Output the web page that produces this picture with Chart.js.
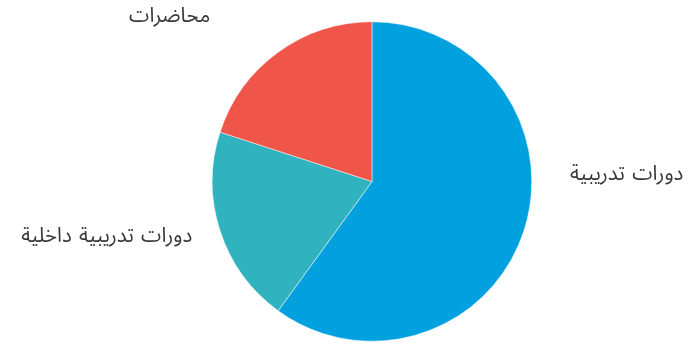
<!DOCTYPE html>
<html>
<head>
<meta charset="utf-8">
<script src="https://cdn.jsdelivr.net/npm/chart.js@4/dist/chart.umd.min.js"></script>
<style>
html,body{margin:0;padding:0;background:#fff;}
#wrap{width:689px;height:344px;position:relative;}
</style>
</head>
<body>
<div id="wrap"><canvas id="c"></canvas></div>
<script>
const categories = ["دورات تدريبية", "دورات تدريبية داخلية", "محاضرات"];
const values = [60, 20, 20];
const colors = ["#01A0DF", "#30B2BF", "#F05549"];

// label placement relative to the pie centre, in units of the radius
const labelOffsets = [
  {dx: 1.24, dy: -0.03, align: "left"},
  {dx: -1.125, dy: 0.36, align: "right"},
  {dx: -1.0125, dy: -1.02, align: "right"}
];

const outsideLabels = {
  id: "outsideLabels",
  afterDatasetsDraw(chart) {
    const ctx = chart.ctx;
    const meta = chart.getDatasetMeta(0);
    ctx.save();
    ctx.font = '20.5px "Noto Sans Arabic", "Noto Sans", sans-serif';
    ctx.fillStyle = "#383838";
    ctx.textBaseline = "middle";
    if ("wordSpacing" in ctx) ctx.wordSpacing = "2px";
    meta.data.forEach((arc, i) => {
      const r = arc.outerRadius;
      const o = labelOffsets[i];
      ctx.direction = "rtl";
      ctx.textAlign = o.align;
      ctx.fillText(chart.data.labels[i], arc.x + o.dx * r, arc.y + o.dy * r);
    });
    ctx.restore();
  }
};

new Chart(document.getElementById("c"), {
  type: "pie",
  data: {
    labels: categories,
    datasets: [{
      data: values,
      backgroundColor: colors,
      borderColor: "#ffffff",
      borderWidth: 0.5
    }]
  },
  options: {
    responsive: true,
    maintainAspectRatio: false,
    animation: false,
    layout: {padding: {top: 21.5, bottom: 2.5, left: 55, right: 0}},
    plugins: {legend: {display: false}, tooltip: {enabled: false}}
  },
  plugins: [outsideLabels]
});
</script>
</body>
</html>
